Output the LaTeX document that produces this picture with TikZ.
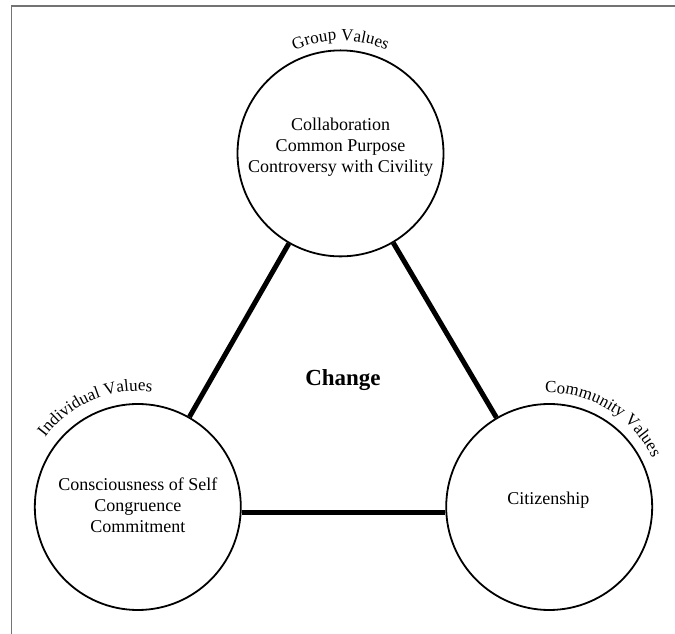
\documentclass[tikz,border=0pt]{standalone}
\usepackage{fontspec}
\setmainfont{Liberation Serif}
\usetikzlibrary{decorations.text}
\newcommand\bodyfont{\fontsize{18}{21}\selectfont}
\newcommand\lblfont{\fontsize{17}{20}\selectfont}
\begin{document}
\begin{tikzpicture}[x=1pt,y=1pt,
  valuecircle/.style={circle, draw, line width=1.8pt, minimum size=206pt, inner sep=0pt},
  valuetext/.style={font=\bodyfont, align=center, inner sep=0pt},
  link/.style={line width=5pt},
  framecol/.style={draw=black!55, line width=1.3pt},
  arclabel/.style={decorate, decoration={text along path, text align=center, text={|\lblfont|#1}}}]
\useasboundingbox (0,0) rectangle (675,634);
% outer frame
\draw[framecol] (11.5,0) -- (11.5,628) -- (675,628);

% the three value circles
\node[valuecircle] (T) at (340.5,480.6) {};
\node[valuecircle] (L) at (137.8,127) {};
\node[valuecircle] (R) at (549.2,127) {};

% connecting bars
\draw[link] (T) -- (L);
\draw[link] (T) -- (R);
\draw[link] (L.-3) -- (R.183);

% circle contents
\node[valuetext] (Tt) at (340.5,487) {Collaboration\\Common Purpose\\Controversy with Civility};
\node[valuetext] (Lt) at (137.8,128.4) {Consciousness of Self\\Congruence\\Commitment};
\node[valuetext, anchor=base] (Rt) at (548.3,129) {Citizenship};
\node[font=\fontsize{23}{26}\selectfont\bfseries, anchor=base, inner sep=0pt] (change) at (343,248.3) {Change};

% curved headings
\path[arclabel={Group Values}] (T) ++(180:113) arc (180:0:113);
\path[arclabel={Individual Values}] (L) ++(203:116) arc (203:23:116);
\path[arclabel={Community Values}] (R) ++(148.7:114) arc (148.7:-31.3:114);
\end{tikzpicture}
\end{document}
